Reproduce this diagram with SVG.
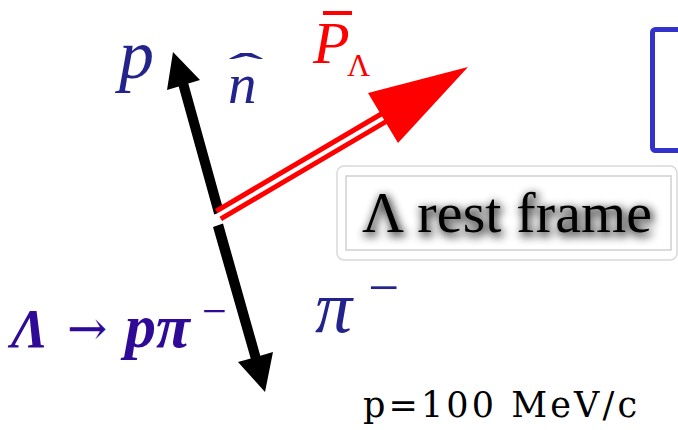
<svg xmlns="http://www.w3.org/2000/svg" width="678" height="430" viewBox="0 0 678 430">
<defs>
<style>
.math{font-family:"Liberation Serif","DejaVu Serif",serif;font-style:italic}
.navy{fill:#23238c}
.indigo{fill:#2e0a96}
.red{fill:#ff0000}
.up{font-family:"Liberation Serif","DejaVu Serif",serif;font-style:normal}
</style>
<filter id="shadow" x="-10%" y="-40%" width="120%" height="180%">
<feMorphology in="SourceAlpha" operator="dilate" radius="1" result="d"/>
<feGaussianBlur in="d" stdDeviation="5" result="b"/>
<feOffset in="b" dx="2" dy="3" result="o"/>
<feComponentTransfer in="o" result="s"><feFuncA type="linear" slope="0.8"/></feComponentTransfer>
<feMerge><feMergeNode in="s"/><feMergeNode in="SourceGraphic"/></feMerge>
</filter>
</defs>
<rect width="678" height="430" fill="#ffffff"/>

<g id="blue-box">
<rect x="652.5" y="29.5" width="100" height="121" rx="3" fill="none" stroke="#3333cc" stroke-width="5"/>
</g>

<g id="rest-frame-label">
<rect x="337" y="166" width="340" height="94" rx="7" fill="#ffffff" stroke="#d9d9d9" stroke-width="1.5"/>
<rect x="346" y="176" width="325" height="74" fill="#ffffff" stroke="#d0d0d0" stroke-width="1.5"/>
<text x="362" y="232" font-family="Liberation Serif, DejaVu Serif, serif" font-size="58" fill="#000" filter="url(#shadow)" textLength="290">Λ rest frame</text>
</g>

<g id="connectors">
<polygon points="214.2,214.4 178.7,86.4 167,90 173,52 200,80 188.3,83.6 223.8,211.6" fill="#000"/>
<polygon points="213,227 250.7,358.4 238,362 265,392 273,352 260.3,355.7 223,223.5" fill="#000"/>
<line x1="218.5" y1="215" x2="384" y2="117.5" stroke="#ff0000" stroke-width="14"/>
<line x1="216" y1="216.5" x2="386" y2="116.5" stroke="#ffffff" stroke-width="4"/>
<polygon points="468,67 368,93 398,143" fill="#ff0000"/>
</g>

<g id="label-p">
<text class="math navy" x="119" y="78" font-size="70">p</text>
</g>
<g id="label-n-hat">
<text class="math navy" x="228" y="103" font-size="57">n</text>
<text class="up navy" x="0" y="0" font-size="50" font-weight="bold" text-anchor="middle" transform="translate(246,80) scale(2.1,0.75)">ˆ</text>
</g>
<g id="label-P-Lambda">
<text class="math red" x="313" y="63" font-size="60">P</text>
<line x1="323" y1="13" x2="352" y2="13" stroke="#ff0000" stroke-width="4"/>
<text class="up red" x="347" y="76" font-size="32">Λ</text>
</g>
<g id="label-pi-minus">
<text class="math navy" x="315" y="332" font-size="74">π</text>
<text class="up navy" x="368" y="306" font-size="55">−</text>
</g>
<g id="label-decay">
<text class="indigo" y="347" font-family="Liberation Serif, DejaVu Serif, serif"><tspan x="11" font-size="55" font-weight="bold" font-style="italic">Λ</tspan><tspan x="67" y="345" font-size="48" font-family="DejaVu Serif, serif">→</tspan><tspan x="125" y="347" font-size="62" font-weight="bold" font-style="italic">pπ</tspan><tspan x="202" y="326" font-size="44">−</tspan></text>
</g>

<g id="label-momentum">
<text x="363" y="417" font-family="DejaVu Serif, Liberation Serif, serif" font-size="35" fill="#000" textLength="274">p=100 MeV/c</text>
</g>
</svg>
